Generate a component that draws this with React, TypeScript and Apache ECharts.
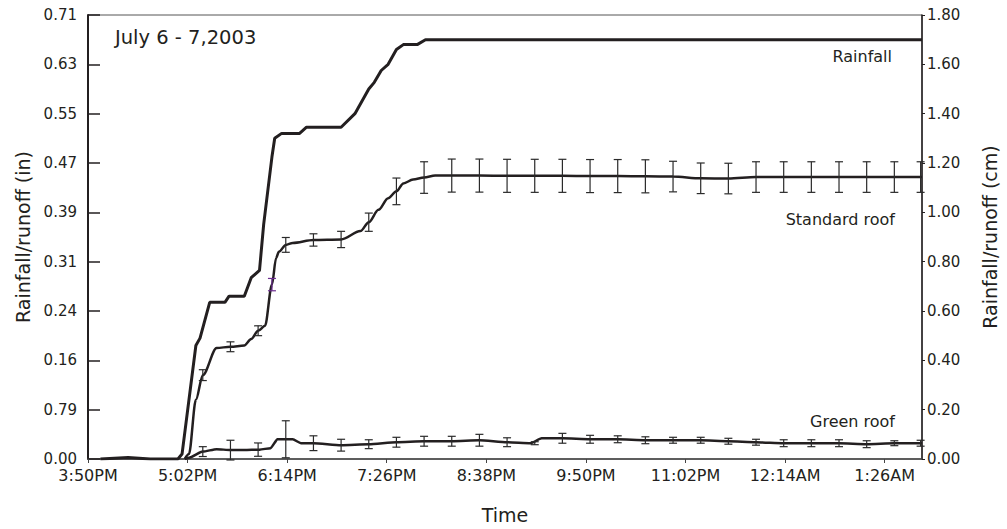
import React, { useEffect, useRef } from "react";
import * as echarts from "echarts";

// x values are minutes after 3:50 PM
const timeLabels = ["3:50PM", "5:02PM", "6:14PM", "7:26PM", "8:38PM", "9:50PM", "11:02PM", "12:14AM", "1:26AM"];
const leftTickLabels = ["0.00", "0.79", "0.16", "0.24", "0.31", "0.39", "0.47", "0.55", "0.63", "0.71"];

const rainTime = [9, 29, 45, 65, 68, 78, 81, 88, 99, 102, 113, 118, 124, 127, 133, 135, 140, 153, 158, 183, 193, 203, 207, 212, 217, 223, 228, 238, 244, 603];
const rainCm = [0, 0.006, 0, 0, 0.02, 0.46, 0.49, 0.635, 0.635, 0.66, 0.66, 0.735, 0.765, 0.95, 1.225, 1.3, 1.32, 1.32, 1.345, 1.345, 1.4, 1.5, 1.527, 1.575, 1.6, 1.66, 1.68, 1.68, 1.7, 1.7];

const stdTime = [70, 73, 78, 83, 93, 103, 113, 118, 123, 128, 133, 136, 138, 143, 148, 163, 183, 197, 203, 210, 217, 223, 228, 235, 243, 251, 263, 283, 303, 323, 343, 363, 383, 403, 423, 443, 463, 483, 503, 523, 543, 563, 583, 603];
const stdCm = [0, 0.02, 0.24, 0.34, 0.45, 0.455, 0.46, 0.486, 0.52, 0.54, 0.707, 0.815, 0.84, 0.868, 0.876, 0.888, 0.89, 0.924, 0.96, 1.01, 1.057, 1.085, 1.117, 1.133, 1.141, 1.149, 1.149, 1.149, 1.148, 1.148, 1.148, 1.147, 1.147, 1.146, 1.145, 1.138, 1.137, 1.143, 1.143, 1.143, 1.143, 1.143, 1.143, 1.143];

const stdErrTime = [83, 103, 123, 143, 163, 183, 203, 223, 243, 263, 283, 303, 323, 343, 363, 383, 403, 423, 443, 463, 483, 503, 523, 543, 563, 583, 602];
const stdErrMean = [0.34, 0.455, 0.52, 0.868, 0.888, 0.89, 0.96, 1.085, 1.141, 1.149, 1.149, 1.148, 1.148, 1.148, 1.147, 1.147, 1.146, 1.145, 1.138, 1.137, 1.143, 1.143, 1.143, 1.143, 1.143, 1.143, 1.143];
const stdErrDev = [0.022, 0.02, 0.02, 0.03, 0.025, 0.033, 0.037, 0.054, 0.064, 0.067, 0.067, 0.067, 0.067, 0.067, 0.067, 0.067, 0.067, 0.062, 0.062, 0.062, 0.062, 0.062, 0.062, 0.062, 0.062, 0.062, 0.062];
const stdMarkedTime = [133];
const stdMarkedMean = [0.707];
const stdMarkedDev = [0.025];

const greenTime = [70, 73, 83, 93, 103, 113, 124, 132, 137, 143, 148, 154, 163, 183, 203, 223, 243, 263, 283, 303, 320, 328, 343, 363, 383, 403, 423, 443, 463, 483, 503, 523, 543, 563, 583, 603];
const greenCm = [0, 0.005, 0.03, 0.04, 0.036, 0.036, 0.038, 0.044, 0.08, 0.08, 0.08, 0.064, 0.064, 0.056, 0.06, 0.068, 0.072, 0.072, 0.076, 0.068, 0.064, 0.084, 0.084, 0.08, 0.08, 0.076, 0.076, 0.076, 0.072, 0.068, 0.064, 0.064, 0.064, 0.06, 0.064, 0.064];

const greenErrTime = [83, 103, 123, 143, 163, 183, 203, 223, 243, 263, 283, 303, 323, 343, 363, 383, 403, 423, 443, 463, 483, 503, 523, 543, 563, 583, 602];
const greenErrMean = [0.03, 0.036, 0.038, 0.08, 0.064, 0.056, 0.06, 0.068, 0.072, 0.072, 0.076, 0.068, 0.064, 0.084, 0.08, 0.08, 0.076, 0.076, 0.076, 0.072, 0.068, 0.064, 0.064, 0.064, 0.06, 0.064, 0.064];
const greenErrDev = [0.02, 0.04, 0.027, 0.075, 0.03, 0.024, 0.018, 0.02, 0.02, 0.02, 0.024, 0.018, 0.006, 0.02, 0.016, 0.014, 0.014, 0.012, 0.012, 0.012, 0.012, 0.014, 0.014, 0.014, 0.014, 0.01, 0.012];

const FONT = "DejaVu Sans";
const INK = "#231f20";

function zip2(a: number[], b: number[]) {
  return a.map((v, i) => [v, b[i]]);
}
function zip3(a: number[], b: number[], c: number[]) {
  return a.map((v, i) => [v, b[i], c[i]]);
}

function errRender(color: string) {
  return (params: any, api: any) => {
    const x = api.value(0);
    const m = api.value(1);
    const d = api.value(2);
    const top = api.coord([x, m + d]);
    const bot = api.coord([x, m - d]);
    const hw = 4;
    const style = { stroke: color, lineWidth: 1.2 };
    return {
      type: "group",
      children: [
        { type: "line", shape: { x1: top[0], y1: top[1], x2: bot[0], y2: bot[1] }, style },
        { type: "line", shape: { x1: top[0] - hw, y1: top[1], x2: top[0] + hw, y2: top[1] }, style },
        { type: "line", shape: { x1: bot[0] - hw, y1: bot[1], x2: bot[0] + hw, y2: bot[1] }, style },
      ],
    };
  };
}

export default function App() {
  const ref = useRef<HTMLDivElement>(null);
  useEffect(() => {
    if (!ref.current) return;
    const chart = echarts.init(ref.current, null, { renderer: "svg" });
    const tickVals = timeLabels.map((_, i) => i * 72);
    chart.setOption({
      animation: false,
      backgroundColor: "#ffffff",
      textStyle: { fontFamily: FONT },
      grid: {
        left: 88,
        right: 82,
        top: 15,
        bottom: 66,
        show: true,
        borderColor: "#555555",
        borderWidth: 1,
      },
      xAxis: {
        type: "value",
        min: 0,
        max: 603,
        interval: 72,
        name: "Time",
        nameLocation: "middle",
        nameGap: 46,
        nameTextStyle: { fontFamily: FONT, fontSize: 19, color: "#231f20" },
        axisLine: { show: true, lineStyle: { color: "#444", width: 1.5 } },
        axisTick: { show: true, inside: false, length: 4, customValues: tickVals, lineStyle: { color: "#444" } },
        axisLabel: {
          customValues: tickVals,
          fontFamily: FONT,
          fontSize: 16,
          lineHeight: 16,
          color: "#231f20",
          margin: 8,
          formatter: (v: number) => timeLabels[Math.round(v / 72)] ?? "",
        },
        splitLine: { show: false },
      },
      yAxis: [
        {
          type: "value",
          position: "left",
          min: 0,
          max: 9,
          interval: 1,
          name: "Rainfall/runoff (in)",
          nameLocation: "middle",
          nameGap: 56,
          nameTextStyle: { fontFamily: FONT, fontSize: 19, color: "#231f20" },
          axisLine: { show: true, lineStyle: { color: INK, width: 2 } },
          axisTick: { show: true, inside: true, length: 12, lineStyle: { color: INK, width: 1.5 } },
          axisLabel: {
            fontFamily: FONT,
            fontSize: 15,
            lineHeight: 12,
            color: "#231f20",
            margin: 11,
            formatter: (v: number) => leftTickLabels[Math.round(v)] ?? "",
          },
          splitLine: { show: false },
        },
        {
          type: "value",
          position: "right",
          min: 0,
          max: 1.8,
          interval: 0.2,
          name: "Rainfall/runoff (cm)",
          nameLocation: "middle",
          nameGap: 58,
          nameTextStyle: { fontFamily: FONT, fontSize: 19, color: "#231f20" },
          axisLine: { show: true, lineStyle: { color: INK, width: 1.5 } },
          axisTick: { show: true, inside: false, length: 3, lineStyle: { color: INK } },
          axisLabel: {
            fontFamily: FONT,
            fontSize: 15,
            lineHeight: 12,
            color: "#231f20",
            margin: 5,
            formatter: (v: number) => v.toFixed(2),
          },
          splitLine: { show: false },
        },
      ],
      series: [
        {
          name: "Rainfall",
          type: "line",
          yAxisIndex: 1,
          data: zip2(rainTime, rainCm),
          showSymbol: false,
          lineStyle: { color: INK, width: 3 },
          z: 3,
        },
        {
          name: "Standard roof",
          type: "line",
          yAxisIndex: 1,
          data: zip2(stdTime, stdCm),
          showSymbol: false,
          smooth: 0.3,
          smoothMonotone: "x",
          lineStyle: { color: INK, width: 2.5 },
          z: 3,
        },
        {
          name: "Green roof",
          type: "line",
          yAxisIndex: 1,
          data: zip2(greenTime, greenCm),
          showSymbol: false,
          smooth: 0.2,
          smoothMonotone: "x",
          lineStyle: { color: INK, width: 2.5 },
          z: 3,
        },
        {
          name: "Standard roof error",
          type: "custom",
          yAxisIndex: 1,
          data: zip3(stdErrTime, stdErrMean, stdErrDev),
          encode: { x: 0, y: [1, 2] },
          renderItem: errRender("#2a2a2a"),
          z: 4,
        },
        {
          name: "Standard roof error (marked)",
          type: "custom",
          yAxisIndex: 1,
          data: zip3(stdMarkedTime, stdMarkedMean, stdMarkedDev),
          encode: { x: 0, y: [1, 2] },
          renderItem: errRender("#6b2d8f"),
          z: 4,
        },
        {
          name: "Green roof error",
          type: "custom",
          yAxisIndex: 1,
          data: zip3(greenErrTime, greenErrMean, greenErrDev),
          encode: { x: 0, y: [1, 2] },
          renderItem: errRender("#2a2a2a"),
          z: 4,
        },
      ],
      graphic: [
        {
          type: "text",
          left: 115,
          top: 27,
          style: { text: "July 6 - 7,2003", fontFamily: FONT, fontSize: 19.5, fill: "#231f20" },
        },
        {
          type: "text",
          right: 1007 - 892,
          top: 48,
          style: { text: "Rainfall", fontFamily: FONT, fontSize: 16, fill: "#231f20" },
        },
        {
          type: "text",
          right: 1007 - 895,
          top: 211,
          style: { text: "Standard roof", fontFamily: FONT, fontSize: 16, fill: "#231f20" },
        },
        {
          type: "text",
          right: 1007 - 895,
          top: 413,
          style: { text: "Green roof", fontFamily: FONT, fontSize: 16, fill: "#231f20" },
        },
      ],
    });
    return () => chart.dispose();
  }, []);
  return <div ref={ref} style={{ position: "absolute", left: 0, top: 0, width: 1007, height: 529 }} />;
}
